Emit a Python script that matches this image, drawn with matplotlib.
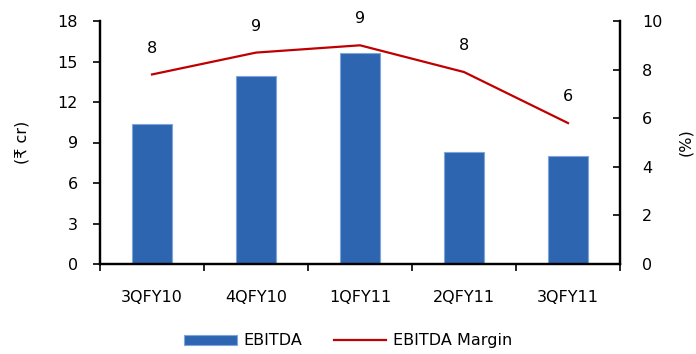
import matplotlib.pyplot as plt
import numpy as np

quarters = ['3QFY10', '4QFY10', '1QFY11', '2QFY11', '3QFY11']
ebitda = [10.4, 13.9, 15.6, 8.3, 8.0]
margin = [7.8, 8.7, 9.0, 7.9, 5.8]

bar_color = '#2E65B0'
bar_edge = '#7FA6DA'
line_color = '#C00000'

plt.rcParams['font.family'] = ['DejaVu Sans']
plt.rcParams['font.size'] = 11.5

fig = plt.figure(figsize=(6.96, 3.54), dpi=100)
ax = fig.add_axes([100 / 696, 1 - 264 / 354, 520 / 696, 243 / 354])
ax2 = ax.twinx()

x = np.arange(len(quarters))
bars = ax.bar(x, ebitda, width=0.38, color=bar_color, edgecolor=bar_edge,
              linewidth=0.8, label='EBITDA', zorder=2)
line, = ax2.plot(x, margin, color=line_color, lw=1.6, label='EBITDA Margin', zorder=3)

# margin values written above each point
for xi, m in zip(x, margin):
    ax2.annotate(f'{m:.0f}', (xi, m), xytext=(0, 19), textcoords='offset points',
                 ha='center', va='center')

ax.set_xlim(-0.5, len(quarters) - 0.5)
ax.set_ylim(0, 18)
ax.set_yticks(np.arange(0, 19, 3))
ax2.set_ylim(0, 10)
ax2.set_yticks(np.arange(0, 11, 2))

ax.set_xticks(np.arange(-0.5, len(quarters), 1), minor=False)
ax.set_xticklabels([])
ax.set_xticks(x, minor=True)
ax.set_xticklabels(quarters, minor=True)
ax.tick_params(axis='x', which='major', direction='out', length=5, width=1.2)
ax.tick_params(axis='x', which='minor', length=0, pad=19)
ax.tick_params(axis='y', direction='out', length=5, width=1.2, pad=11)
ax2.tick_params(axis='y', direction='in', length=5, width=1.2, pad=16)

for a in (ax, ax2):
    a.spines['top'].set_visible(False)
    for s in ('left', 'right', 'bottom'):
        a.spines[s].set_linewidth(1.6)

ax.set_ylabel('(₹ cr)', labelpad=20)
ax2.set_ylabel('(%)', labelpad=11)

fig.legend([bars, line], ['EBITDA', 'EBITDA Margin'], loc='lower center',
           bbox_to_anchor=(0.5, -0.025), ncol=2, frameon=False, handlelength=3.3,
           handleheight=0.6, columnspacing=2.0, handletextpad=0.4)

fig.savefig('out.png', dpi=100)
